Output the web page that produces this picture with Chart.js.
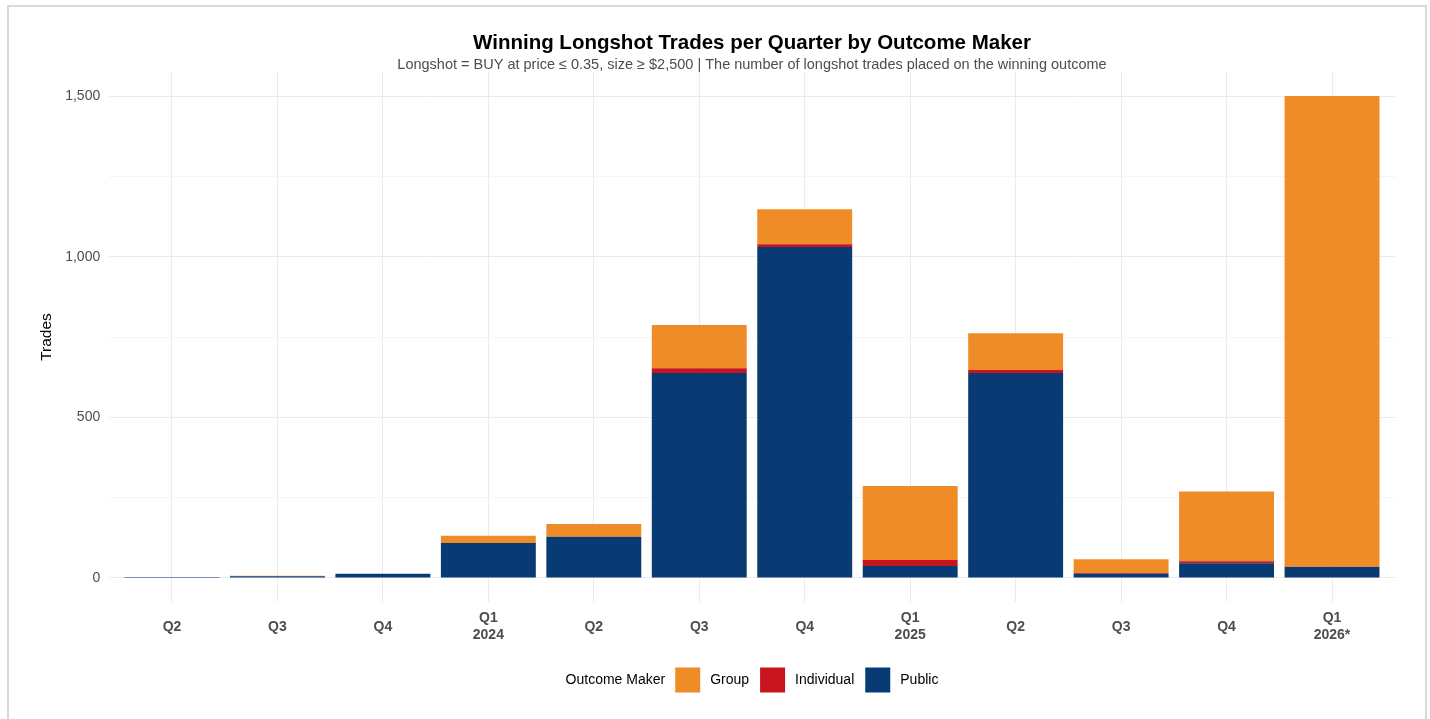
<!DOCTYPE html>
<html>
<head>
<meta charset="utf-8">
<script src="https://cdn.jsdelivr.net/npm/chart.js@4.4.1/dist/chart.umd.min.js"></script>
<style>
  html, body { margin: 0; padding: 0; background: #ffffff; }
  #wrap { position: relative; width: 1430px; height: 719px; overflow: hidden; }
  #frame { position: absolute; left: 7px; top: 5px; width: 1416px; height: 800px; border: 2px solid #d9d9d9; pointer-events: none; }
  canvas { position: absolute; left: 0; top: 0; }
</style>
</head>
<body>
<div id="wrap">
  <canvas id="c" width="1430" height="719"></canvas>
  <div id="frame"></div>
</div>
<script>
// ---- data ----
const quarterLabels = ["Q2", "Q3", "Q4", ["Q1", "2024"], "Q2", "Q3", "Q4", ["Q1", "2025"], "Q2", "Q3", "Q4", ["Q1", "2026*"]];
const publicTrades     = [3, 5, 13, 109, 128, 638, 1030, 37, 638, 13, 46, 34];
const individualTrades = [0, 0, 0, 0, 0, 15, 9, 19, 9, 2, 6, 1];
const groupTrades      = [0, 2, 0, 22, 40, 134, 109, 230, 115, 43, 217, 1465];
const yMajorTicks = [0, 500, 1000, 1500];
const yMinorTicks = [250, 750, 1250];

const titleText = "Winning Longshot Trades per Quarter by Outcome Maker";
const subtitleText = "Longshot = BUY at price \u2264 0.35, size \u2265 $2,500 | The number of longshot trades placed on the winning outcome";
const legendTitle = "Outcome Maker";

const COLORS = { Group: "#F08C28", Individual: "#C8141E", Public: "#083B73" };
const FONT = '"Liberation Sans", Arial, sans-serif';

const toPoints = arr => arr.map((v, i) => ({ x: i + 1, y: v }));

const datasets = [
  { label: "Public", data: toPoints(publicTrades), backgroundColor: COLORS.Public },
  { label: "Individual", data: toPoints(individualTrades), backgroundColor: COLORS.Individual },
  { label: "Group", data: toPoints(groupTrades), backgroundColor: COLORS.Group }
].map(d => Object.assign(d, { barPercentage: 0.9, categoryPercentage: 1.0, borderWidth: 0 }));

const decorPlugin = {
  id: 'decor',
  afterDraw(chart) {
    const ctx = chart.ctx;
    const ca = chart.chartArea;
    const cx = (ca.left + ca.right) / 2;
    ctx.save();
    ctx.textAlign = 'center';
    ctx.textBaseline = 'middle';
    ctx.fillStyle = '#000000';
    ctx.font = 'bold 20.5px ' + FONT;
    ctx.fillText(titleText, cx, 43);
    ctx.fillStyle = '#4d4d4d';
    ctx.font = '14.5px ' + FONT;
    ctx.fillText(subtitleText, cx, 65);

    // legend (reverse of stacking order)
    const items = chart.data.datasets.slice().reverse();
    ctx.font = '14px ' + FONT;
    const box = 25, gapTitle = 10, gapLabel = 10, gapItem = 11;
    let total = ctx.measureText(legendTitle).width + gapTitle;
    items.forEach((d, i) => {
      total += box + gapLabel + ctx.measureText(d.label).width + (i < items.length - 1 ? gapItem : 0);
    });
    let x = cx - total / 2;
    const yc = 680;
    ctx.textAlign = 'left';
    ctx.fillStyle = '#000000';
    ctx.fillText(legendTitle, x, yc);
    x += ctx.measureText(legendTitle).width + gapTitle;
    items.forEach((d, i) => {
      ctx.fillStyle = d.backgroundColor;
      ctx.fillRect(x, yc - box / 2, box, box);
      x += box + gapLabel;
      ctx.fillStyle = '#000000';
      ctx.fillText(d.label, x, yc);
      x += ctx.measureText(d.label).width + gapItem;
    });
    ctx.restore();
  }
};

new Chart(document.getElementById('c'), {
  type: 'bar',
  data: { datasets },
  plugins: [decorPlugin],
  options: {
    responsive: false,
    animation: false,
    events: [],
    layout: { padding: { top: 72, right: 34.7, bottom: 0, left: 0 } },
    plugins: { legend: { display: false }, tooltip: { enabled: false }, title: { display: false } },
    scales: {
      x: {
        type: 'linear',
        stacked: true,
        offset: false,
        min: 0.4,
        max: quarterLabels.length + 0.6,
        afterBuildTicks: s => { s.ticks = quarterLabels.map((_, i) => ({ value: i + 1 })); },
        afterFit: s => { s.height = 117; },
        ticks: {
          autoSkip: false,
          maxRotation: 0,
          crossAlign: 'center',
          padding: 16.4,
          color: '#4d4d4d',
          font: { family: FONT, size: 14, weight: 'bold' },
          callback: v => quarterLabels[Math.round(v) - 1]
        },
        grid: { offset: false, color: '#ebebeb', lineWidth: 1, drawTicks: false },
        border: { display: false }
      },
      y: {
        stacked: true,
        min: -75,
        max: 1575,
        afterBuildTicks: s => {
          s.ticks = yMajorTicks.concat(yMinorTicks).sort((a, b) => a - b).map(v => ({ value: v }));
        },
        afterFit: s => { s.width = 108.7; },
        ticks: {
          padding: 8.5,
          color: '#4d4d4d',
          font: { family: FONT, size: 14 },
          callback: v => yMajorTicks.includes(v) ? v.toLocaleString('en-US') : ''
        },
        grid: {
          drawTicks: false,
          lineWidth: 1,
          color: c => (c.tick && yMajorTicks.includes(c.tick.value)) ? '#ebebeb' : '#f5f5f5'
        },
        border: { display: false },
        title: {
          display: true,
          text: 'Trades',
          color: '#000000',
          font: { family: FONT, size: 15.5 },
          padding: { top: 37.5, bottom: 0 }
        }
      }
    }
  }
});
</script>
</body>
</html>
